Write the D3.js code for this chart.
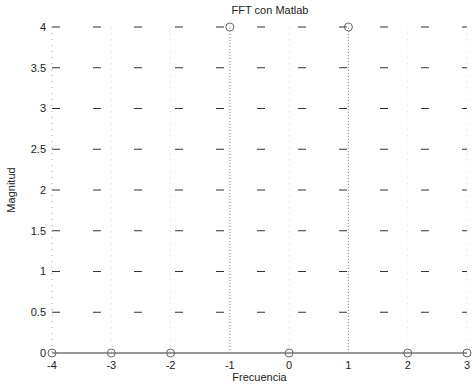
<!DOCTYPE html>
<html>
<head>
<meta charset="utf-8">
<script src="https://cdn.jsdelivr.net/npm/d3@7"></script>
<style>
  body { margin: 0; background: #fff; }
  text { font-family: "Liberation Sans", Arial, sans-serif; fill: #222; }
</style>
</head>
<body>
<div id="chart"></div>
<script>
const freq = [-4, -3, -2, -1, 0, 1, 2, 3];
const mag = [0, 0, 0, 4, 0, 4, 0, 0];
const xTicks = [-4, -3, -2, -1, 0, 1, 2, 3];
const yTicks = [0, 0.5, 1, 1.5, 2, 2.5, 3, 3.5, 4];

const W = 472, H = 384;
const margin = {top: 27, right: 5, bottom: 31, left: 52};
const width = W - margin.left - margin.right;
const height = H - margin.top - margin.bottom;

const svg = d3.select("#chart").append("svg")
    .attr("width", W)
    .attr("height", H);
const g = svg.append("g").attr("transform", `translate(${margin.left},${margin.top})`);

const x = d3.scaleLinear().domain([-4, 3]).range([0, width]);
const y = d3.scaleLinear().domain([0, 4]).range([height, 0]);

// grid (faded dotted look from the scan)
g.append("g").selectAll("line").data(yTicks.slice(1)).join("line")
    .attr("x1", 0).attr("x2", width)
    .attr("y1", d => y(d)).attr("y2", d => y(d))
    .attr("stroke", "#333").attr("stroke-width", 1.2)
    .attr("stroke-dasharray", "8,33");
g.append("g").selectAll("line").data(xTicks).join("line")
    .attr("x1", d => x(d)).attr("x2", d => x(d))
    .attr("y1", 0).attr("y2", height)
    .attr("stroke", d => d === -4 ? "#999" : "#ddd").attr("stroke-width", 1)
    .attr("stroke-dasharray", "1,5");

// baseline
g.append("line")
    .attr("x1", x(-4)).attr("x2", x(3))
    .attr("y1", y(0)).attr("y2", y(0))
    .attr("stroke", "#333").attr("stroke-width", 1.2);

// stems
const pts = freq.map((f, i) => ({f, m: mag[i]}));
g.append("g").selectAll("line").data(pts.filter(d => d.m > 0)).join("line")
    .attr("x1", d => x(d.f)).attr("x2", d => x(d.f))
    .attr("y1", y(0)).attr("y2", d => y(d.m))
    .attr("stroke", "#999").attr("stroke-width", 1.2)
    .attr("stroke-dasharray", "1,2");
g.append("g").selectAll("circle").data(pts).join("circle")
    .attr("cx", d => x(d.f)).attr("cy", d => y(d.m))
    .attr("r", 4)
    .attr("fill", "none").attr("stroke", "#666").attr("stroke-width", 1);

// tick labels
g.append("g").selectAll("text").data(xTicks).join("text")
    .attr("x", d => x(d)).attr("y", height + 16)
    .attr("text-anchor", "middle").attr("font-size", 11)
    .text(d => d);
g.append("g").selectAll("text").data(yTicks).join("text")
    .attr("x", -6).attr("y", d => y(d)).attr("dy", "0.35em")
    .attr("text-anchor", "end").attr("font-size", 11)
    .text(d => d);

// labels
svg.append("text").attr("x", 270).attr("y", 14)
    .attr("text-anchor", "middle").attr("font-size", 11).text("FFT con Matlab");
svg.append("text").attr("x", margin.left + x(-0.5)).attr("y", 381)
    .attr("text-anchor", "middle").attr("font-size", 11).text("Frecuencia");
svg.append("text").attr("transform", `translate(15,${margin.top + height / 2}) rotate(-90)`)
    .attr("text-anchor", "middle").attr("font-size", 11).text("Magnitud");
</script>
</body>
</html>
